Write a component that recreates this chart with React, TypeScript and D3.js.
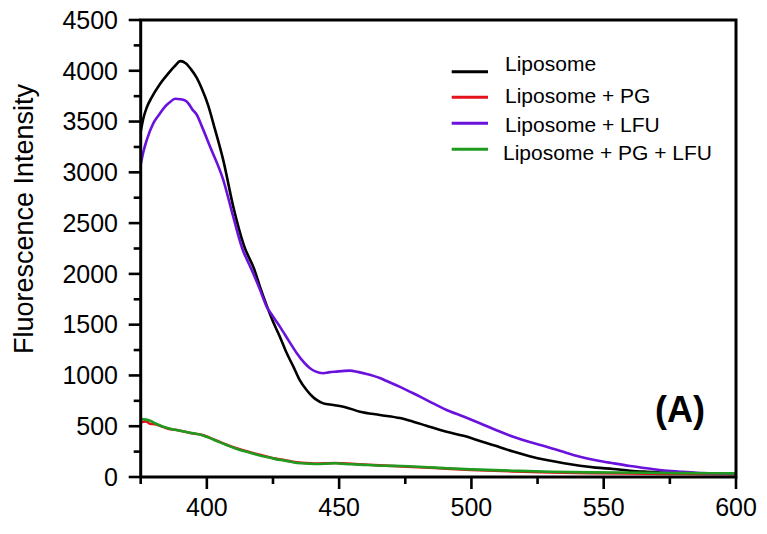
import React from "react";
import * as d3 from "d3";

const W = 767;
const H = 534;

const xTicksMajor = [400, 450, 500, 550, 600];
const xTicksMinor = [375, 425, 475, 525, 575];
const yTicksMajor = [0, 500, 1000, 1500, 2000, 2500, 3000, 3500, 4000, 4500];
const yTicksMinor = [250, 750, 1250, 1750, 2250, 2750, 3250, 3750, 4250];

const seriesNames = ["Liposome", "Liposome + PG", "Liposome + LFU", "Liposome + PG + LFU"];
const seriesColors = ["#000000", "#e3121b", "#6a12dc", "#1f9b1f"];

// Liposome
const lipoWl = [375, 376, 377.3, 379, 382.3, 385, 388, 390, 392, 394, 396.2, 398, 400.5, 403, 406.2, 410, 414, 418, 420, 422.6, 425, 427.6, 430, 432.7, 435, 437.7, 440, 441.5, 444, 447.8, 452, 457.9, 465.4, 473, 478, 483, 490.6, 497, 503.2, 510, 515.8, 522, 528.4, 535, 541, 547, 553.6, 560, 566.2, 575, 585, 600];
const lipoVal = [3400, 3530, 3640, 3730, 3870, 3960, 4050, 4095, 4075, 4015, 3930, 3830, 3660, 3430, 3120, 2660, 2280, 2040, 1880, 1690, 1530, 1382, 1230, 1087, 960, 857, 790, 759, 725, 709, 690, 643, 611, 580, 545, 505, 446, 405, 355, 300, 250, 205, 167, 135, 111, 92, 79, 62, 52, 42, 35, 30];

// Liposome + PG
const pgWl = [375, 377, 378.5, 380.4, 383, 385.4, 388, 391.7, 395, 398, 401, 404.3, 407.5, 410.6, 414, 417, 420, 423.2, 426, 429.5, 432.5, 435.8, 439, 442.1, 445, 448.4, 451, 454.7, 461, 467.3, 473.6, 479.9, 486.2, 490.6, 500, 515.8, 530, 545, 566, 580, 600];
const pgVal = [540, 548, 525, 520, 498, 475, 465, 446, 428, 416, 388, 352, 318, 288, 260, 238, 218, 198, 181, 165, 150, 140, 134, 132, 135, 138, 135, 130, 120, 112, 104, 96, 88, 82, 70, 55, 45, 38, 33, 30, 28];

// Liposome + LFU
const lfuWl = [375, 376, 377.3, 379.8, 382, 384.2, 386, 388, 390, 391.7, 393, 394.5, 396.2, 398, 401.2, 406.2, 410, 413.8, 415, 417.5, 420, 422.6, 425, 427.6, 431, 434, 437, 439, 441, 444, 446, 449, 452, 454.1, 457, 460.4, 465.4, 468, 473, 478, 484, 490.6, 497, 503.2, 509, 515.8, 522, 528.4, 535, 541, 547, 553.6, 560, 566.2, 572, 578.8, 585, 592, 600];
const lfuVal = [3074, 3200, 3320, 3485, 3570, 3648, 3690, 3724, 3720, 3708, 3680, 3620, 3567, 3460, 3254, 2926, 2560, 2220, 2150, 2007, 1850, 1678, 1580, 1481, 1340, 1219, 1120, 1071, 1040, 1022, 1030, 1038, 1045, 1047, 1035, 1015, 975, 945, 888, 825, 745, 660, 595, 529, 465, 397, 345, 299, 245, 200, 165, 135, 108, 86, 65, 52, 42, 37, 35];

// Liposome + PG + LFU
const pglfuWl = [375, 377, 378.5, 380.4, 383, 385.4, 388, 391.7, 395, 398, 401, 404.3, 407.5, 410.6, 414, 417, 420, 423.2, 426, 429.5, 432.5, 435.8, 439, 442.1, 445, 448.4, 451, 454.7, 461, 467.3, 473.6, 479.9, 486.2, 490.6, 500, 515.8, 530, 545, 566, 580, 600];
const pglfuVal = [571, 565, 555, 529, 500, 480, 465, 446, 430, 414, 385, 348, 315, 283, 255, 233, 212, 194, 176, 161, 146, 135, 130, 128, 131, 135, 130, 125, 118, 111, 108, 101, 92, 86, 75, 62, 52, 46, 42, 38, 36];

const seriesWl = [lipoWl, pgWl, lfuWl, pglfuWl];
const seriesVal = [lipoVal, pgVal, lfuVal, pglfuVal];
const drawOrder = [0, 1, 2, 3];

const legendY = [71.7, 97.3, 123.3, 149.3];
const legendTextY = [70.7, 102.7, 131.7, 160];
const legendTextX = [505, 505, 505, 503];

export default function App() {
  const x = d3.scaleLinear().domain([375, 600]).range([140.7, 736]);
  const y = d3.scaleLinear().domain([0, 4500]).range([477, 20]);
  const line = d3
    .line<[number, number]>()
    .x((d) => x(d[0]))
    .y((d) => y(d[1]))
    .curve(d3.curveMonotoneX);

  const font = "'Liberation Sans', Arial, Helvetica, sans-serif";
  const [x0, x1] = x.range();
  const [y0, y1] = y.range();

  return (
    <svg
      width={W}
      height={H}
      viewBox={`0 0 ${W} ${H}`}
      style={{ position: "fixed", left: 0, top: 0, background: "#fff" }}
      fontFamily={font}
    >
      <rect x={0} y={0} width={W} height={H} fill="#fff" />
      <defs>
        <clipPath id="plotClip">
          <rect x={x0} y={y1} width={x1 - x0} height={y0 - y1} />
        </clipPath>
      </defs>

      <g clipPath="url(#plotClip)">
        {drawOrder.map((i) => {
          const pts: [number, number][] = seriesWl[i].map((w, k) => [w, seriesVal[i][k]]);
          return (
            <path
              key={i}
              d={line(pts) || ""}
              fill="none"
              stroke={seriesColors[i]}
              strokeWidth={2.6}
              strokeLinejoin="round"
              strokeLinecap="round"
            />
          );
        })}
      </g>

      {/* frame */}
      <rect x={x0} y={y1} width={x1 - x0} height={y0 - y1} fill="none" stroke="#000" strokeWidth={3} />

      {/* y ticks */}
      {yTicksMajor.map((t) => (
        <g key={"ym" + t}>
          <line x1={x0 - 12} x2={x0} y1={y(t)} y2={y(t)} stroke="#000" strokeWidth={2.6} />
          <text x={118} y={y(t)} dy="0.35em" textAnchor="end" fontSize={25} fill="#000">
            {t}
          </text>
        </g>
      ))}
      {yTicksMinor.map((t) => (
        <line key={"yn" + t} x1={x0 - 7} x2={x0} y1={y(t)} y2={y(t)} stroke="#000" strokeWidth={2.6} />
      ))}

      {/* x ticks */}
      {xTicksMajor.map((t) => (
        <g key={"xm" + t}>
          <line x1={x(t)} x2={x(t)} y1={y0} y2={y0 + 12} stroke="#000" strokeWidth={2.6} />
          <text x={x(t)} y={516} textAnchor="middle" fontSize={25} fill="#000">
            {t}
          </text>
        </g>
      ))}
      {xTicksMinor.map((t) => (
        <line key={"xn" + t} x1={x(t)} x2={x(t)} y1={y0} y2={y0 + 7} stroke="#000" strokeWidth={2.6} />
      ))}

      {/* y axis title */}
      <text
        transform={`translate(33, 219) rotate(-90)`}
        textAnchor="middle"
        fontSize={27}
        fill="#000"
      >
        Fluorescence Intensity
      </text>

      {/* legend */}
      {seriesNames.map((n, i) => (
        <g key={"lg" + i}>
          <line x1={451.7} x2={488} y1={legendY[i]} y2={legendY[i]} stroke={seriesColors[i]} strokeWidth={3} />
          <text x={legendTextX[i]} y={legendTextY[i]} fontSize={21} fill="#000">
            {n}
          </text>
        </g>
      ))}

      {/* panel label */}
      <text x={655} y={421.7} fontSize={36} fontWeight="bold" fill="#000">
        (A)
      </text>
    </svg>
  );
}
